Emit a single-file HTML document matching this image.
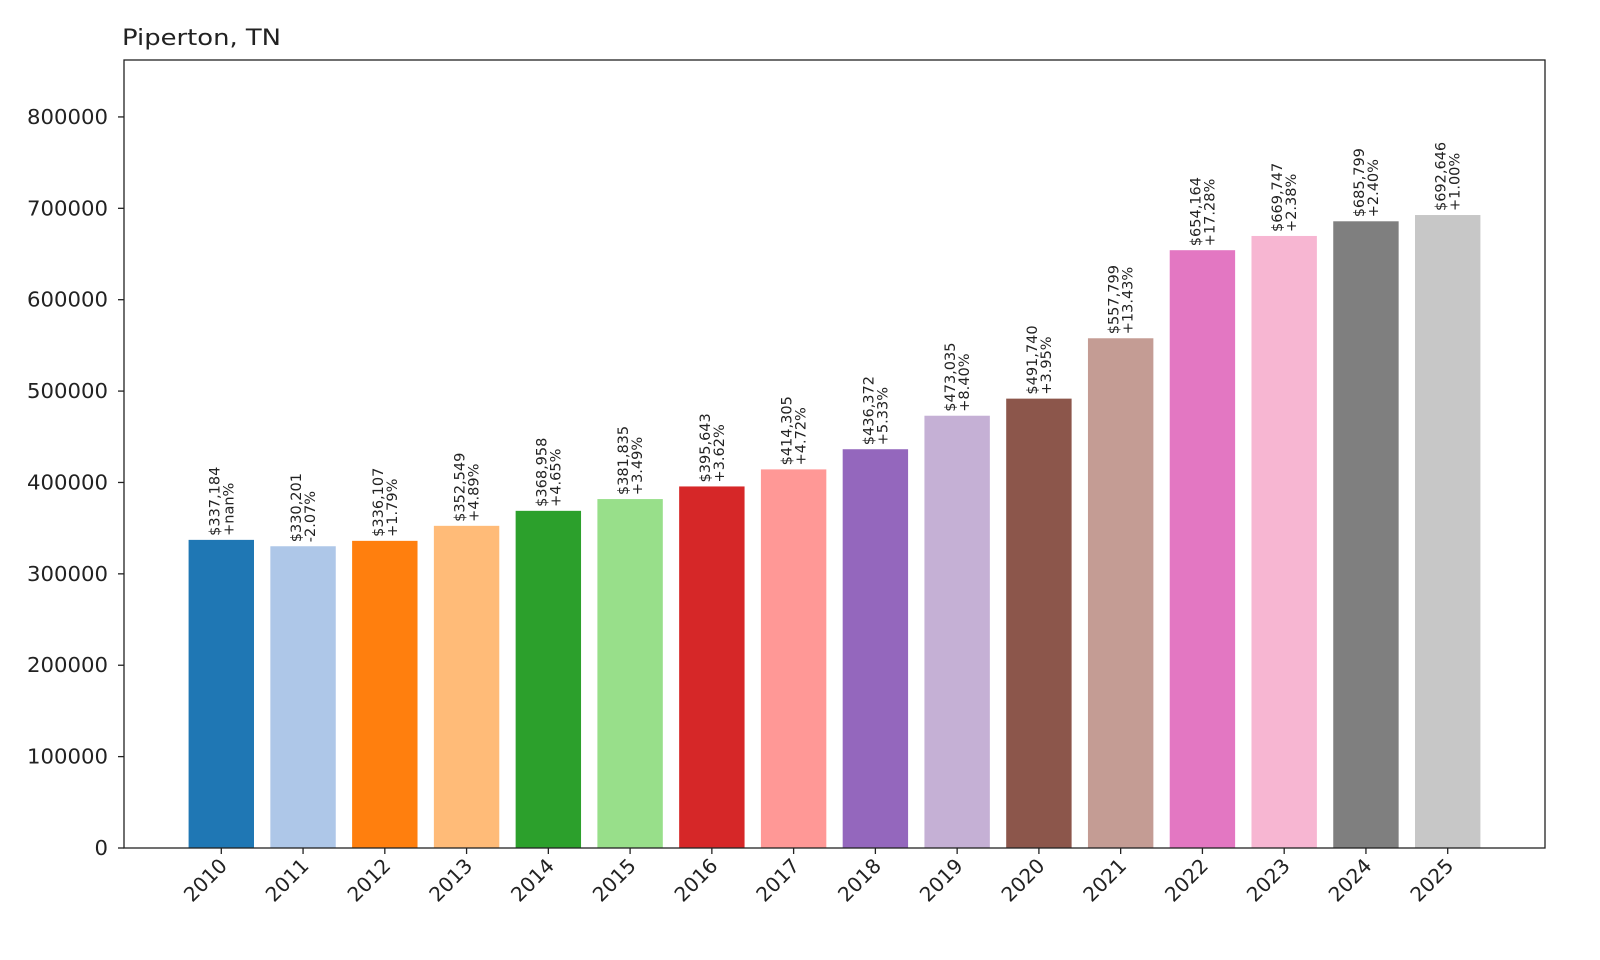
<!DOCTYPE html>
<html><head><meta charset="utf-8"><style>
html,body{margin:0;padding:0;background:#fff;}
svg{display:block;font-family:"DejaVu Sans","Liberation Sans",sans-serif;}
</style></head><body>
<svg id="chart" width="1600" height="960" viewBox="0 0 1600 960">
<text x="122" y="45" font-size="22" textLength="159" lengthAdjust="spacingAndGlyphs" fill="#222">Piperton, TN</text>
<g id="bars"></g>
<rect x="124" y="60" width="1421" height="788" fill="none" stroke="#222" stroke-width="1.3"/>
</svg>
<script>
const years=["2010","2011","2012","2013","2014","2015","2016","2017","2018","2019","2020","2021","2022","2023","2024","2025"];
const values=[337184,330201,336107,352549,368958,381835,395643,414305,436372,473035,491740,557799,654164,669747,685799,692646];
const changes=["+nan%","-2.07%","+1.79%","+4.89%","+4.65%","+3.49%","+3.62%","+4.72%","+5.33%","+8.40%","+3.95%","+13.43%","+17.28%","+2.38%","+2.40%","+1.00%"];
const yTicks=[0,100000,200000,300000,400000,500000,600000,700000,800000];
const colors=["#1f77b4","#aec7e8","#ff7f0e","#ffbb78","#2ca02c","#98df8a","#d62728","#ff9896","#9467bd","#c5b0d5","#8c564b","#c49c94","#e377c2","#f7b6d2","#7f7f7f","#c7c7c7"];
const NS="http://www.w3.org/2000/svg";
const L=124,R=1545,T=60,B=848;
const xmin=-1.19,xmax=years.length-1+1.19,ymax=862300;
function xs(i){return L+(i-xmin)/(xmax-xmin)*(R-L);}
function ys(v){return B-v/ymax*(B-T);}
const bw=0.8*(R-L)/(xmax-xmin);
const svg=document.getElementById('chart'),g=document.getElementById('bars');
function mk(t,a,p){const e=document.createElementNS(NS,t);for(const k in a)e.setAttribute(k,a[k]);(p||g).appendChild(e);return e;}
yTicks.forEach(v=>{
  const y=ys(v);
  const tk=mk('line',{x1:L-6,x2:L,y1:y,y2:y,stroke:'#222','stroke-width':1.3});
  
  
  const s=String(v);
  const t=mk('text',{x:L-16,y:y+7,'font-size':20,'text-anchor':'end',fill:'#222',textLength:13.5*s.length,lengthAdjust:'spacingAndGlyphs'});
  t.textContent=s;
  
  
});
values.forEach((v,i)=>{
  const cx=xs(i),top=ys(v);
  const r=mk('rect',{x:cx-bw/2,y:top,width:bw,height:B-top,fill:colors[i%colors.length]});
  
  
  const tk=mk('line',{x1:cx,x2:cx,y1:B,y2:B+6,stroke:'#222','stroke-width':1.3});
  
  
  const xl=mk('text',{x:cx+7,y:B+19,'font-size':20,'text-anchor':'end',fill:'#222',transform:'rotate(-45 '+(cx+7)+' '+(B+19)+')'});
  xl.textContent=years[i];
  
  
  const lbl=mk('text',{'font-size':14.5,'text-anchor':'start',fill:'#222',transform:'translate('+(cx)+' '+(top-4)+') rotate(-90)'});
  
  
  const t1=mk('tspan',{x:0,y:-2},lbl);
  t1.textContent='$'+v.toLocaleString('en-US');
  const t2=mk('tspan',{x:0,y:12},lbl);
  t2.textContent=changes[i];
});
</script>
</body></html>
